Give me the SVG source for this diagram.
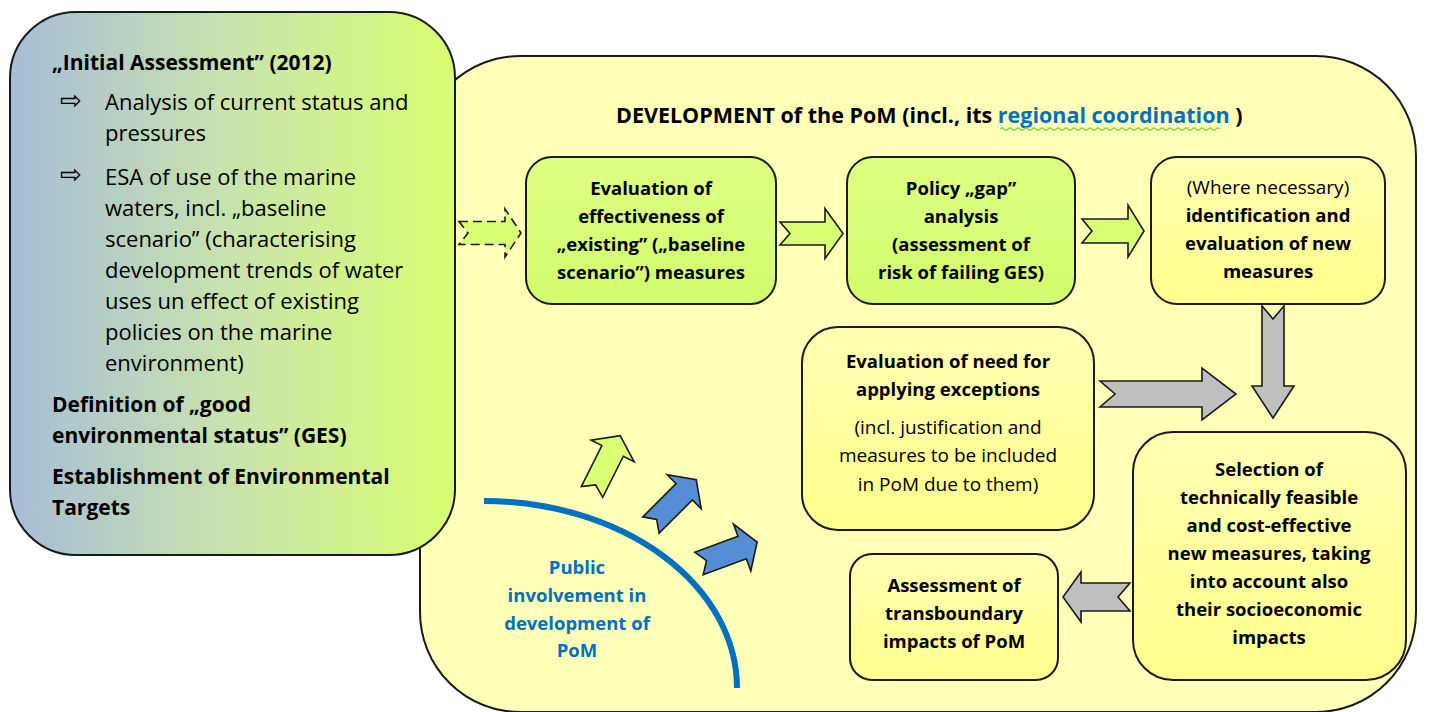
<svg xmlns="http://www.w3.org/2000/svg" width="1436" height="712" viewBox="0 0 1436 712">
<defs>
<linearGradient id="gLeft" x1="0" y1="0" x2="1" y2="0">
<stop offset="0" stop-color="#A7BDD8"/>
<stop offset="0.5" stop-color="#C9E3AC"/>
<stop offset="1" stop-color="#D9FE70"/>
</linearGradient>
<linearGradient id="gGreen" x1="0" y1="0" x2="0" y2="1">
<stop offset="0" stop-color="#DDFF82"/>
<stop offset="1" stop-color="#D3FB6C"/>
</linearGradient>
<linearGradient id="gYel" x1="0" y1="0" x2="0" y2="1">
<stop offset="0" stop-color="#FFFFB2"/>
<stop offset="1" stop-color="#FFFF8C"/>
</linearGradient>
<style>
.box{stroke:#1a1a1a;stroke-width:2}
.t{font-family:"Open Sans","Liberation Sans",sans-serif;fill:#000}
.b{font-weight:bold}
.c{text-anchor:middle}
.s18{font-size:18.5px}
.r19{font-size:19px}
.s21{font-size:21px}
.r22{font-size:22px}
.bul{font-family:"DejaVu Sans",sans-serif;font-size:26px;fill:#000}
.blue{fill:#0070C0}
.arrG{fill:#D9FF75;stroke:#1a1a1a;stroke-width:1.6;stroke-linejoin:miter}
.arrB{fill:#558ED5;stroke:#1a1a1a;stroke-width:1.6}
.arrGr{fill:#BFBFBF;stroke:#1a1a1a;stroke-width:1.6}
</style>
</defs>

<g id="development-area">
<rect x="420" y="56" width="996" height="656" rx="100" ry="100" fill="#FFFFB8" class="box"/>
<text class="t b" x="616" y="123" font-size="21.5px">DEVELOPMENT of the PoM (incl., its <tspan class="blue">regional coordination</tspan> )</text>
<path d="M1000,129 q2,-2 4,0 t4,0 t4,0 t4,0 t4,0 t4,0 t4,0 t4,0 t4,0 t4,0 t4,0 t4,0 t4,0 t4,0 t4,0 t4,0 t4,0 t4,0 t4,0 t4,0 t4,0 t4,0 t4,0 t4,0 t4,0 t4,0 t4,0 t4,0 t4,0 t4,0 t4,0 t4,0 t4,0 t4,0 t4,0 t4,0 t4,0 t4,0 t4,0 t4,0 t4,0 t4,0 t4,0 t4,0 t4,0 t4,0 t4,0 t4,0 t4,0 t4,0 t4,0 t4,0 t4,0 t4,0 t4,0" fill="none" stroke="#92D050" stroke-width="1.2"/>
</g>

<g id="initial-assessment">
<rect x="10" y="12" width="445" height="543" rx="66" ry="66" fill="url(#gLeft)" class="box"/>
<text class="t b s21" x="52" y="70">„Initial Assessment” (2012)</text>
<text class="bul" x="60" y="109">⇨</text>
<text class="t r22" x="105" y="110">Analysis of current status and</text>
<text class="t r22" x="105" y="141">pressures</text>
<text class="bul" x="60" y="183">⇨</text>
<text class="t r22" x="105" y="185">ESA of use of the marine</text>
<text class="t r22" x="105" y="216">waters, incl. „baseline</text>
<text class="t r22" x="105" y="247">scenario” (characterising</text>
<text class="t r22" x="105" y="278">development trends of water</text>
<text class="t r22" x="105" y="309">uses un effect of existing</text>
<text class="t r22" x="105" y="340">policies on the marine</text>
<text class="t r22" x="105" y="371">environment)</text>
<text class="t b s21" x="52" y="412">Definition of „good</text>
<text class="t b s21" x="52" y="443">environmental status” (GES)</text>
<text class="t b s21" x="52" y="484">Establishment of Environmental</text>
<text class="t b s21" x="52" y="515">Targets</text>
</g>

<g id="evaluation-existing">
<rect x="526" y="157" width="250" height="147" rx="26" fill="url(#gGreen)" class="box"/>
<text class="t b c s18" x="651" y="195">Evaluation of</text>
<text class="t b c s18" x="651" y="223">effectiveness of</text>
<text class="t b c s18" x="651" y="251">„existing” („baseline</text>
<text class="t b c s18" x="651" y="279">scenario”) measures</text>
</g>

<g id="policy-gap">
<rect x="847" y="157" width="228" height="147" rx="26" fill="url(#gGreen)" class="box"/>
<text class="t b c s18" x="961" y="195">Policy „gap”</text>
<text class="t b c s18" x="961" y="223">analysis</text>
<text class="t b c s18" x="961" y="251">(assessment of</text>
<text class="t b c s18" x="961" y="279">risk of failing GES)</text>
</g>

<g id="new-measures">
<rect x="1151" y="157" width="234" height="147" rx="26" fill="url(#gYel)" class="box"/>
<text class="t c r19" x="1268" y="194">(Where necessary)</text>
<text class="t b c s18" x="1268" y="222">identification and</text>
<text class="t b c s18" x="1268" y="250">evaluation of new</text>
<text class="t b c s18" x="1268" y="278">measures</text>
</g>

<g id="exceptions">
<rect x="802" y="327" width="292" height="203" rx="36" fill="url(#gYel)" class="box"/>
<text class="t b c s18" x="948" y="368">Evaluation of need for</text>
<text class="t b c s18" x="948" y="396">applying exceptions</text>
<text class="t c r19" x="948" y="434">(incl. justification and</text>
<text class="t c r19" x="948" y="462">measures to be included</text>
<text class="t c r19" x="948" y="491">in PoM due to them)</text>
</g>

<g id="selection">
<rect x="1133" y="432" width="273" height="248" rx="40" fill="url(#gYel)" class="box"/>
<text class="t b c s18" x="1269" y="476">Selection of</text>
<text class="t b c s18" x="1269" y="504">technically feasible</text>
<text class="t b c s18" x="1269" y="532">and cost-effective</text>
<text class="t b c s18" x="1269" y="560">new measures, taking</text>
<text class="t b c s18" x="1269" y="588">into account also</text>
<text class="t b c s18" x="1269" y="616">their socioeconomic</text>
<text class="t b c s18" x="1269" y="644">impacts</text>
</g>

<g id="transboundary">
<rect x="850" y="554" width="208" height="126" rx="22" fill="url(#gYel)" class="box"/>
<text class="t b c s18" x="954" y="592">Assessment of</text>
<text class="t b c s18" x="954" y="620">transboundary</text>
<text class="t b c s18" x="954" y="648">impacts of PoM</text>
</g>

<g id="public-involvement">
<path d="M484,501 A253,187 0 0 1 737,688" fill="none" stroke="#0070C0" stroke-width="6"/>
<text class="t b c s18 blue" x="577" y="574">Public</text>
<text class="t b c s18 blue" x="577" y="602">involvement in</text>
<text class="t b c s18 blue" x="577" y="630">development of</text>
<text class="t b c s18 blue" x="577" y="657">PoM</text>
</g>

<g id="connectors">
<polygon class="arrG" stroke-dasharray="9,5" transform="translate(459,233)" points="0,-11.5 46,-11.5 46,-24 62,0 46,24 46,11.5 0,11.5 9,0"/>
<polygon class="arrG" transform="translate(780,233.5)" points="0,-11.5 45,-11.5 45,-25 63,0 45,25 45,11.5 0,11.5 10,0"/>
<polygon class="arrG" transform="translate(1082,231)" points="0,-12 46,-12 46,-26 62,0 46,26 46,12 0,12 10,0"/>
<polygon class="arrGr" transform="translate(1273,306) rotate(90)" points="0,-11 80,-11 80,-21 112,0 80,21 80,11 0,11 13,0"/>
<polygon class="arrGr" transform="translate(1100,394)" points="0,-13 102,-13 102,-26 136,0 102,26 102,13 0,13 15,0"/>
<polygon class="arrGr" transform="translate(1130,597) rotate(180)" points="0,-14 49,-14 49,-25 67,0 49,25 49,14 0,14 12,0"/>
<polygon class="arrG" transform="translate(592,492) rotate(-63.4)" points="0,-12 46,-12 46,-24 63,0 46,24 46,12 0,12 8,0"/>
<polygon class="arrB" transform="translate(651,525) rotate(-45)" points="0,-11.5 47,-11.5 47,-24 64,0 47,24 47,11.5 0,11.5 8,0"/>
<polygon class="arrB" transform="translate(699,563.5) rotate(-20.3)" points="0,-12 46,-12 46,-25 62,0 46,25 46,12 0,12 8,0"/>
</g>
</svg>
